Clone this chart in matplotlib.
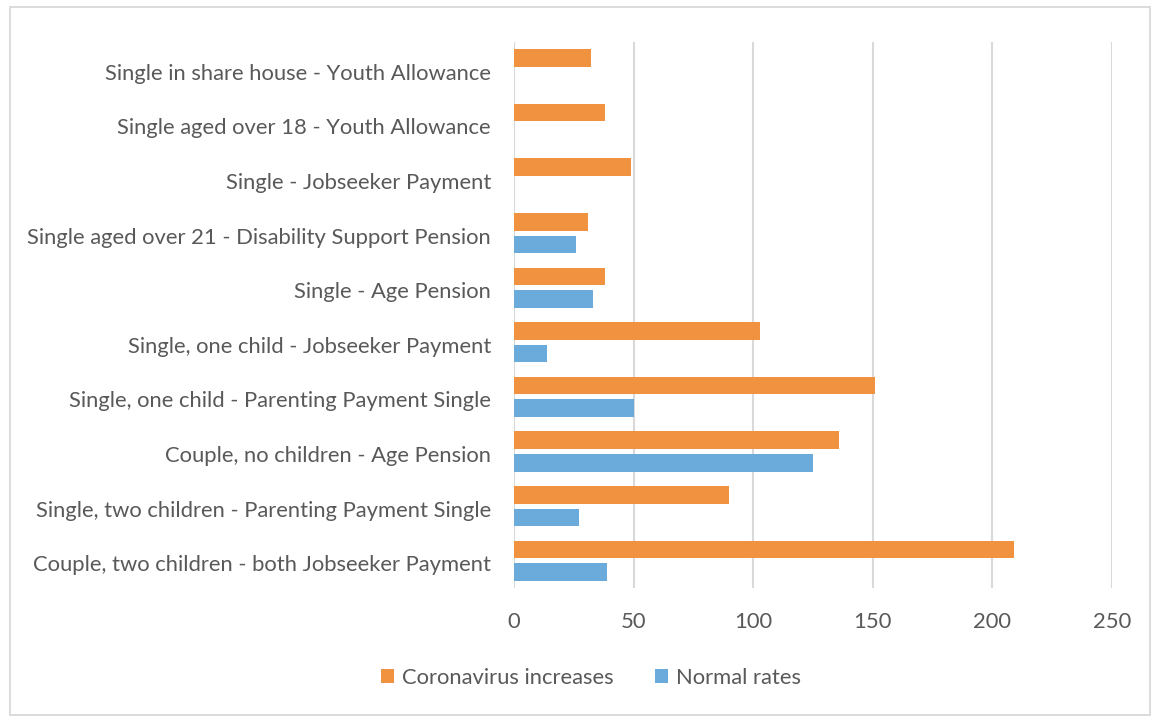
import matplotlib
matplotlib.use("Agg")
import matplotlib.pyplot as plt
import matplotlib.transforms as mtransforms
from matplotlib.patches import Rectangle, Patch
import numpy as np

categories = [
    "Single in share house - Youth Allowance",
    "Single aged over 18 - Youth Allowance",
    "Single - Jobseeker Payment",
    "Single aged over 21 - Disability Support Pension",
    "Single - Age Pension",
    "Single, one child - Jobseeker Payment",
    "Single, one child - Parenting Payment Single",
    "Couple, no children - Age Pension",
    "Single, two children - Parenting Payment Single",
    "Couple, two children - both Jobseeker Payment",
]
coronavirus_increases = [32, 38, 49, 31, 38, 103, 151, 136, 90, 209]
normal_rates = [0, 0, 0, 26, 33, 14, 50, 125, 27, 39]
x_ticks = [0, 50, 100, 150, 200, 250]

ORANGE = "#F19241"
BLUE = "#6BABDB"
TEXT = "#595959"
GRID = "#D9D9D9"
FONT = "Lato"
FS = 15.8

W, H = 1152, 717
fig = plt.figure(figsize=(W / 100, H / 100), dpi=100)

# chart border
fig.patches.append(Rectangle((10 / W, 2 / H), 1140 / W, 708 / H, transform=fig.transFigure,
                             fill=False, edgecolor=GRID, linewidth=1.3))

ax = fig.add_axes([514 / W, 1 - 588 / H, (1112 - 514) / W, (588 - 42) / H])
y = np.arange(len(categories))
h = 0.32
off = 0.207
ax.barh(y - off, coronavirus_increases, height=h, color=ORANGE, zorder=3)
ax.barh(y + off, normal_rates, height=h, color=BLUE, zorder=3)

ax.set_xlim(0, 250)
ax.set_ylim(len(categories) - 0.5, -0.5)
ax.set_xticks(x_ticks)
ax.set_xticklabels([str(t) for t in x_ticks], fontsize=FS, color=TEXT, family=FONT)
ax.set_yticks(y)
ax.set_yticklabels(categories, fontsize=FS, color=TEXT, family=FONT)
ax.tick_params(axis="both", length=0)
ax.tick_params(axis="x", pad=17)
ax.tick_params(axis="y", pad=16.5)
shift = mtransforms.ScaledTranslation(0, -2.5 / 100, fig.dpi_scale_trans)
for lbl in ax.get_yticklabels():
    lbl.set_transform(lbl.get_transform() + shift)
for s in ax.spines.values():
    s.set_visible(False)
ax.grid(axis="x", color=GRID, linewidth=1.5, zorder=0)
ax.set_axisbelow(True)

handles = [Patch(facecolor=ORANGE, label="Coronavirus increases"),
           Patch(facecolor=BLUE, label="Normal rates")]
leg = fig.legend(handles=handles, loc="center", bbox_to_anchor=(591 / W, 1 - 678 / H), ncol=2,
                 frameon=False, prop={"family": FONT, "size": FS}, handlelength=0.6,
                 handleheight=0.6, handletextpad=0.35, columnspacing=1.9)
for t in leg.get_texts():
    t.set_color(TEXT)

fig.savefig("out.png", dpi=100)
